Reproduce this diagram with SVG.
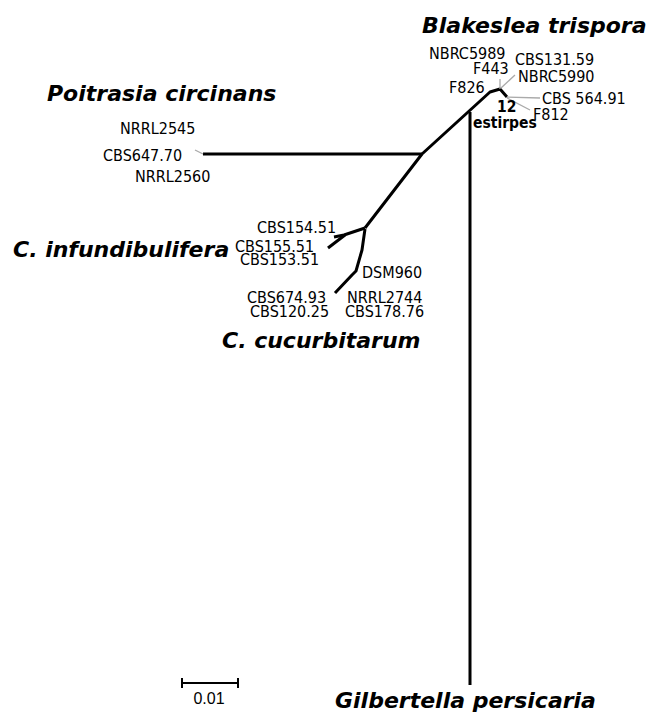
<svg xmlns="http://www.w3.org/2000/svg" width="650" height="713" viewBox="0 0 650 713">
<style>
.br{fill:none;stroke:#000;stroke-width:3;stroke-linejoin:round;stroke-linecap:butt}
.gr{fill:none;stroke:#aaa;stroke-width:1.3}
.lb{font-family:"DejaVu Sans Condensed","DejaVu Sans",sans-serif;font-stretch:condensed;font-size:16px;fill:#000}
.sp{font-family:"DejaVu Sans",Verdana,sans-serif;font-size:22px;font-weight:bold;font-style:italic;fill:#000}
.bd{font-family:"DejaVu Sans Condensed","DejaVu Sans",sans-serif;font-stretch:condensed;font-size:15.5px;font-weight:bold;fill:#000}
.sc{font-family:"Liberation Sans",Arial,sans-serif;font-size:16px;fill:#000}
</style>
<rect width="650" height="713" fill="#fff"/>
<g id="connectors">
<path class="br" d="M470,112 V685"/>
<path class="br" d="M365,228 L422,154 L490,92 L500,89 L507,97"/>
<path class="br" d="M203,154 H422"/>
<path class="br" d="M365,228 L344,235 L334,237"/>
<path class="br" d="M328,248 L345,235"/>
<path class="br" d="M365,229 L362,250 L356,271 L352,275 L335,293"/>
<path class="gr" d="M195,150 L203,154"/>
<path class="gr" d="M500,89 V79 M501,88 L515,75 M507,97 L540,98 M507,98 L530,110"/>
</g>
<g id="node-blakeslea">
<text class="sp" x="422" y="33">Blakeslea trispora</text>
<text class="lb" x="429" y="59">NBRC5989</text>
<text class="lb" x="473" y="74">F443</text>
<text class="lb" x="449" y="93">F826</text>
<text class="lb" x="515" y="65">CBS131.59</text>
<text class="lb" x="518" y="82">NBRC5990</text>
<text class="lb" x="542" y="104">CBS 564.91</text>
<text class="lb" x="533" y="120">F812</text>
<text class="bd" x="497" y="112">12</text>
<text class="bd" x="473" y="128">estirpes</text>
</g>
<g id="node-poitrasia">
<text class="sp" x="47" y="101">Poitrasia circinans</text>
<text class="lb" x="120" y="134">NRRL2545</text>
<text class="lb" x="103" y="161">CBS647.70</text>
<text class="lb" x="135" y="182">NRRL2560</text>
</g>
<g id="node-infundibulifera">
<text class="sp" x="13" y="257">C. infundibulifera</text>
<text class="lb" x="257" y="233">CBS154.51</text>
<text class="lb" x="235" y="252">CBS155.51</text>
<text class="lb" x="240" y="265">CBS153.51</text>
</g>
<g id="node-cucurbitarum">
<text class="sp" x="222" y="348">C. cucurbitarum</text>
<text class="lb" x="362" y="278">DSM960</text>
<text class="lb" x="247" y="303">CBS674.93</text>
<text class="lb" x="250" y="317">CBS120.25</text>
<text class="lb" x="347" y="303">NRRL2744</text>
<text class="lb" x="345" y="317">CBS178.76</text>
</g>
<g id="node-gilbertella">
<text class="sp" x="335" y="708">Gilbertella persicaria</text>
</g>
<g id="scale">
<path d="M182,683 H238 M182,678 V688 M238,678 V688" fill="none" stroke="#000" stroke-width="2"/>
<text class="sc" x="209" y="704" text-anchor="middle">0.01</text>
</g>
</svg>
